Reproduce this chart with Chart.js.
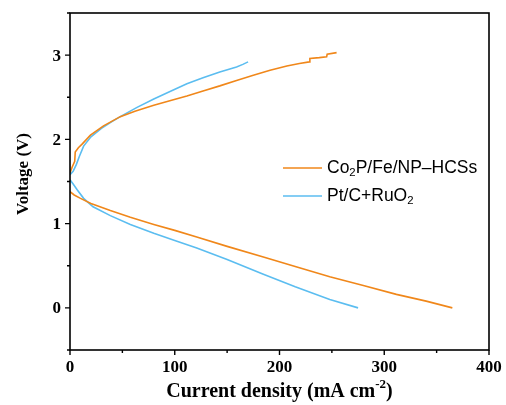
<!DOCTYPE html>
<html>
<head>
<meta charset="utf-8">
<script src="https://cdn.jsdelivr.net/npm/chart.js@4.4.0/dist/chart.umd.min.js"></script>
<style>
    html, body { margin: 0; padding: 0; background: #fff; }
    #wrap { width: 506px; height: 405px; }
</style>
</head>
<body>
<div id="wrap"><canvas id="chart"></canvas></div>
<script>
// Co2P/Fe/NP-HCSs - charge (upper) and discharge (lower) branches
const coChargeX = [0, 2, 4.5, 5, 8, 12, 19.5, 32, 48, 62, 80, 97, 111.6, 127, 143, 159, 175, 191, 207, 219, 228.5, 229, 238, 245, 245.5, 254.5];
const coChargeV = [1.60, 1.67, 1.74, 1.85, 1.90, 1.95, 2.05, 2.16, 2.27, 2.335, 2.405, 2.465, 2.515, 2.575, 2.635, 2.70, 2.76, 2.82, 2.87, 2.90, 2.92, 2.96, 2.97, 2.98, 3.01, 3.03];
const coDischargeX = [0, 4, 10, 20, 38.5, 57.6, 80, 100, 121, 150, 184.6, 215, 248, 280, 311.6, 340, 365];
const coDischargeV = [1.38, 1.34, 1.30, 1.24, 1.155, 1.075, 0.99, 0.92, 0.84, 0.73, 0.605, 0.49, 0.37, 0.265, 0.16, 0.08, 0];

// Pt/C+RuO2
const ptChargeX = [0, 3, 6, 9, 13, 20, 30, 40, 48, 64, 80, 96, 111.6, 127, 143, 151, 159, 165, 170];
const ptChargeV = [1.58, 1.62, 1.70, 1.80, 1.92, 2.03, 2.13, 2.21, 2.27, 2.38, 2.48, 2.57, 2.66, 2.73, 2.80, 2.83, 2.86, 2.89, 2.92];
const ptDischargeX = [0, 3, 7, 13, 22, 38.5, 57.6, 80, 100, 121, 150, 184.6, 215, 248, 275];
const ptDischargeV = [1.52, 1.47, 1.40, 1.30, 1.20, 1.095, 0.99, 0.885, 0.80, 0.71, 0.575, 0.40, 0.25, 0.10, 0];

const xTicks = [0, 100, 200, 300, 400];
const xMinorTicks = [50, 150, 250, 350];
const yTicks = [0, 1, 2, 3];
const yMinorTicks = [-0.5, 0.5, 1.5, 2.5, 3.5];

const orange = '#F0871A';
const blue = '#5BBDF0';
const serif = '"Liberation Serif", "Times New Roman", serif';
const sans = '"Liberation Sans", Arial, sans-serif';

function toPoints(xs, ys) {
    return xs.map((x, i) => ({ x: x, y: ys[i] }));
}

function lineSet(xs, ys, color) {
    return {
        data: toPoints(xs, ys),
        borderColor: color,
        borderWidth: 1.6,
        pointRadius: 0,
        showLine: true,
        tension: 0,
        fill: false
    };
}

// draw text made of pieces, some of them sub- or superscript
function drawRich(ctx, parts, x, y, size, family, weight) {
    let cx = x;
    parts.forEach(p => {
        const s = p.sub || p.sup ? size * 0.65 : size;
        ctx.font = `${weight} ${s}px ${family}`;
        let dy = 0;
        if (p.sub) dy = size * 0.3;
        if (p.sup) dy = -size * 0.38;
        ctx.fillText(p.t, cx, y + dy);
        cx += ctx.measureText(p.t).width;
    });
    return cx - x;
}

function richWidth(ctx, parts, size, family, weight) {
    let w = 0;
    parts.forEach(p => {
        const s = p.sub || p.sup ? size * 0.65 : size;
        ctx.font = `${weight} ${s}px ${family}`;
        w += ctx.measureText(p.t).width;
    });
    return w;
}

const decorations = {
    id: 'decorations',
    afterDraw(chart) {
        const ctx = chart.ctx;
        const area = chart.chartArea;
        const xs = chart.scales.x;
        const ys = chart.scales.y;
        ctx.save();

        // frame
        ctx.strokeStyle = '#000';
        ctx.lineWidth = 1.6;
        ctx.strokeRect(area.left, area.top, area.right - area.left, area.bottom - area.top);

        // tick marks, pointing out
        ctx.lineWidth = 1.4;
        ctx.beginPath();
        xTicks.forEach(v => {
            const px = xs.getPixelForValue(v);
            ctx.moveTo(px, area.bottom); ctx.lineTo(px, area.bottom + 5);
        });
        xMinorTicks.forEach(v => {
            const px = xs.getPixelForValue(v);
            ctx.moveTo(px, area.bottom); ctx.lineTo(px, area.bottom + 3);
        });
        yTicks.forEach(v => {
            const py = ys.getPixelForValue(v);
            ctx.moveTo(area.left, py); ctx.lineTo(area.left - 5, py);
        });
        yMinorTicks.forEach(v => {
            const py = ys.getPixelForValue(v);
            ctx.moveTo(area.left, py); ctx.lineTo(area.left - 3, py);
        });
        ctx.stroke();

        ctx.fillStyle = '#000';
        ctx.textBaseline = 'middle';

        // tick labels
        ctx.font = `bold 17px ${serif}`;
        ctx.textAlign = 'center';
        xTicks.forEach(v => {
            ctx.fillText(String(v), xs.getPixelForValue(v), area.bottom + 18);
        });
        ctx.textAlign = 'right';
        yTicks.forEach(v => {
            ctx.fillText(String(v), area.left - 9, ys.getPixelForValue(v) + 1);
        });

        // x title
        ctx.textAlign = 'left';
        const xTitle = [{ t: 'Current density (mA cm' }, { t: '-2', sup: true }, { t: ')' }];
        const xw = richWidth(ctx, xTitle, 20, serif, 'bold');
        drawRich(ctx, xTitle, (area.left + area.right) / 2 - xw / 2, 392, 20, serif, 'bold');

        // y title
        ctx.save();
        ctx.translate(24, 174);
        ctx.rotate(-Math.PI / 2);
        ctx.font = `bold 17px ${serif}`;
        ctx.textAlign = 'center';
        ctx.fillText('Voltage (V)', 0, 0);
        ctx.restore();

        // legend
        const items = [
            { color: orange, y: 168, parts: [{ t: 'Co' }, { t: '2', sub: true }, { t: 'P/Fe/NP\u2013HCSs' }] },
            { color: blue, y: 196, parts: [{ t: 'Pt/C+RuO' }, { t: '2', sub: true }] }
        ];
        items.forEach(it => {
            ctx.strokeStyle = it.color;
            ctx.lineWidth = 1.6;
            ctx.beginPath();
            ctx.moveTo(283, it.y); ctx.lineTo(322, it.y);
            ctx.stroke();
            ctx.textAlign = 'left';
            drawRich(ctx, it.parts, 327, it.y, 17.5, sans, 'normal');
        });

        ctx.restore();
    }
};

new Chart(document.getElementById('chart'), {
    type: 'scatter',
    data: {
        datasets: [
            lineSet(coDischargeX, coDischargeV, orange),
            lineSet(coChargeX, coChargeV, orange),
            lineSet(ptDischargeX, ptDischargeV, blue),
            lineSet(ptChargeX, ptChargeV, blue)
        ]
    },
    options: {
        responsive: true,
        maintainAspectRatio: false,
        animation: false,
        layout: { padding: { top: 13, right: 17, left: 0, bottom: 0 } },
        plugins: {
            legend: { display: false },
            tooltip: { enabled: false }
        },
        scales: {
            x: {
                type: 'linear',
                min: 0,
                max: 400,
                afterBuildTicks: s => { s.ticks = xTicks.map(v => ({ value: v })); },
                afterFit: s => { s.height = 55; },
                grid: { display: false },
                border: { display: false },
                ticks: { display: false }
            },
            y: {
                type: 'linear',
                min: -0.5,
                max: 3.5,
                afterBuildTicks: s => { s.ticks = yTicks.map(v => ({ value: v })); },
                afterFit: s => { s.width = 70; },
                grid: { display: false },
                border: { display: false },
                ticks: { display: false }
            }
        }
    },
    plugins: [decorations]
});
</script>
</body>
</html>
